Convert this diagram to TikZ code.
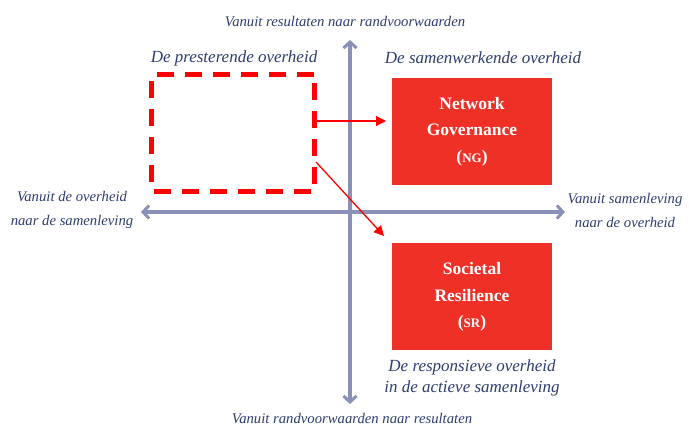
\documentclass[tikz,border=0pt]{standalone}
\usepackage{fontspec}
\setmainfont{Liberation Serif}
\usetikzlibrary{arrows.meta}
\definecolor{axisc}{HTML}{8A90B8}
\definecolor{boxred}{HTML}{EE3026}
\definecolor{lblue}{HTML}{2E3D6E}
\definecolor{dred}{HTML}{FF0000}
\tikzset{
  ax/.style={draw=axisc,line width=3.5pt,-{Straight Barb[length=6pt,width=13pt,line width=3pt]}},
  quad/.style={fill=boxred,minimum width=160pt,minimum height=107pt,inner sep=0pt,text=white,font=\bfseries\fontsize{17.5}{26.5}\selectfont,align=center},
  head/.style={text=lblue,font=\itshape\fontsize{17}{21}\selectfont},
  side/.style={text=lblue,font=\itshape\fontsize{14.7}{24}\selectfont,align=center},
  redarr/.style={draw=dred,line width=1.3pt,-{Triangle[length=10pt,width=10pt]}},
}
\begin{document}
\begin{tikzpicture}[x=1pt,y=-1pt]
\useasboundingbox (0,0) rectangle (689,427);
% axes
\coordinate (vc) at (350,212);
\coordinate (ttop) at (350,40);
\coordinate (tbot) at (350,404);
\coordinate (tl) at (141,212);
\coordinate (tr) at (565,212);
\draw[ax] (vc) -- (ttop);
\draw[ax] (vc) -- (tbot);
\draw[ax] (vc) -- (tl);
\draw[ax] (vc) -- (tr);
% dashed box
\node[draw=dred,line width=5pt,dash pattern=on 17pt off 11pt,minimum width=163pt,minimum height=117pt,inner sep=0pt,rounded corners=1pt] (pres) at (233,133) {};
% red boxes
\node[quad] (ng) at (472,131.5) {Network\\Governance\\({\fontsize{13}{13}\selectfont NG})};
\node[quad] (sr) at (472,297) {Societal\\Resilience\\({\fontsize{13}{13}\selectfont SR})};
% arrows
\coordinate (a1s) at (317,121);
\coordinate (a1e) at (386,121);
\coordinate (a2s) at (316,162);
\coordinate (a2e) at (384,236);
\draw[redarr] (a1s) -- (a1e);
\draw[redarr] (a2s) -- (a2e);
% labels
\node[head] (h1) at (234,58) {De presterende overheid};
\node[head] (h2) at (483,58) {De samenwerkende overheid};
\node[head,align=center] (h3) at (472,378) {De responsieve overheid\\in de actieve samenleving};
\node[side] (top) at (345,22) {Vanuit resultaten naar randvoorwaarden};
\node[side] (bot) at (352,419) {Vanuit randvoorwaarden naar resultaten};
\node[side] (lft) at (72,210) {Vanuit de overheid\\naar de samenleving};
\node[side] (rgt) at (625,210) {Vanuit samenleving\\naar de overheid};
\end{tikzpicture}
\end{document}
